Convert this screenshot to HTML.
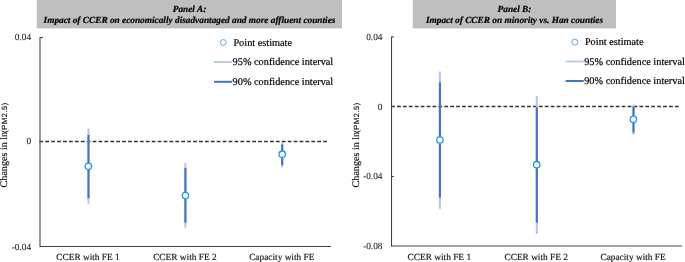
<!DOCTYPE html>
<html><head><meta charset="utf-8">
<style>
html,body{margin:0;padding:0;background:#fff;width:685px;height:262px;overflow:hidden;}
svg{display:block;will-change:transform;text-rendering:geometricPrecision;}
.t{font-family:"Liberation Serif",serif;fill:#000;}
.ti{font-family:"Liberation Serif",serif;font-weight:bold;font-style:italic;font-size:9.3px;fill:#000;stroke:#000;stroke-width:0.2px;}
.tk{font-family:"Liberation Serif",serif;font-size:9.3px;fill:#262626;stroke:#262626;stroke-width:0.1px;}
.cat{font-family:"Liberation Serif",serif;font-size:9.33px;fill:#1a1a1a;stroke:#1a1a1a;stroke-width:0.18px;}
.lg{font-family:"Liberation Serif",serif;font-size:10.3px;fill:#000;stroke:#000;stroke-width:0.2px;}
.yl{font-family:"Liberation Serif",serif;font-size:10.1px;fill:#000;stroke:#000;stroke-width:0.12px;}
.ys{font-family:"Liberation Sans",sans-serif;font-size:7.5px;letter-spacing:0.55px;fill:#000;stroke:#000;stroke-width:0.1px;}
</style></head>
<body>
<svg width="685" height="262" viewBox="0 0 685 262">
<!-- ================= PANEL A ================= -->
<rect x="36.8" y="0" width="305.2" height="28.4" fill="#bfbfbf"/>
<text class="ti" x="189.5" y="11.8" text-anchor="middle">Panel A:</text>
<text class="ti" x="189.5" y="23.2" text-anchor="middle">Impact of CCER on economically disadvantaged and more affluent counties</text>

<!-- y label -->
<text transform="translate(7.4,187.4) rotate(-90)"><tspan class="yl">Changes in ln</tspan><tspan class="ys" dx="-0.8" dy="0">(PM2.5)</tspan></text>

<!-- tick labels -->
<text class="tk" x="31.1" y="40.2" text-anchor="end">0.04</text>
<text class="tk" x="31.1" y="144.4" text-anchor="end">0</text>
<text class="tk" x="31.1" y="249.6" text-anchor="end">-0.04</text>

<!-- dashed zero line -->
<line x1="39.4" y1="141.5" x2="327.3" y2="141.5" stroke="#303030" stroke-width="1.4" stroke-dasharray="3.75 2.1625"/>

<!-- axes -->
<line x1="40" y1="37" x2="40" y2="247" stroke="#444" stroke-width="1.1"/>
<line x1="40" y1="246.5" x2="331" y2="246.5" stroke="#444" stroke-width="1.1"/>
<line x1="40" y1="37.5" x2="43" y2="37.5" stroke="#444" stroke-width="1.1"/>
<line x1="40" y1="141.5" x2="43" y2="141.5" stroke="#444" stroke-width="1.1"/>

<!-- data A -->
<g stroke-width="2.1" fill="none">
<line x1="88.5" y1="128.5" x2="88.5" y2="203.7" stroke="#b4c7e7"/>
<line x1="88.5" y1="134.8" x2="88.5" y2="198.2" stroke="#4472c4"/>
<line x1="185.4" y1="163" x2="185.4" y2="227.9" stroke="#b4c7e7"/>
<line x1="185.4" y1="167.9" x2="185.4" y2="222.8" stroke="#4472c4"/>
<line x1="282.2" y1="142.2" x2="282.2" y2="167.4" stroke="#b4c7e7"/>
<line x1="282.2" y1="144.4" x2="282.2" y2="165.2" stroke="#4472c4"/>
</g>
<g stroke="#1e96eb" stroke-width="1.3" fill="#fff">
<circle cx="88.4" cy="166.3" r="3.2"/>
<circle cx="185.4" cy="195.6" r="3.2"/>
<circle cx="282.2" cy="154.2" r="3.2"/>
</g>

<!-- category labels -->
<text class="cat" x="88" y="260" text-anchor="middle">CCER with FE 1</text>
<text class="cat" x="184.9" y="260" text-anchor="middle">CCER with FE 2</text>
<text class="cat" x="281.8" y="260" text-anchor="middle">Capacity with FE</text>

<!-- legend A -->
<circle cx="223.3" cy="42.5" r="2.95" stroke="#5aa5e8" stroke-width="0.95" fill="#fff"/>
<text class="lg" x="233.4" y="45.8">Point estimate</text>
<line x1="214" y1="62" x2="232" y2="62" stroke="#b4c7e7" stroke-width="1.8"/>
<text class="lg" x="232.6" y="65.4">95% confidence interval</text>
<line x1="214" y1="81.8" x2="232" y2="81.8" stroke="#4472c4" stroke-width="2"/>
<text class="lg" x="232.6" y="84.6">90% confidence interval</text>

<!-- ================= PANEL B ================= -->
<rect x="412.8" y="0" width="203.2" height="28.4" fill="#bfbfbf"/>
<text class="ti" x="514.5" y="12" text-anchor="middle">Panel B:</text>
<text class="ti" x="514.5" y="23.2" text-anchor="middle">Impact of CCER on minority vs. Han counties</text>

<text transform="translate(359.2,187.4) rotate(-90)"><tspan class="yl">Changes in ln</tspan><tspan class="ys" dx="-0.8" dy="0">(PM2.5)</tspan></text>

<text class="tk" x="382.5" y="40" text-anchor="end">0.04</text>
<text class="tk" x="382.5" y="109.5" text-anchor="end">0</text>
<text class="tk" x="382.5" y="179.1" text-anchor="end">-0.04</text>
<text class="tk" x="382.5" y="248.8" text-anchor="end">-0.08</text>

<line x1="391.1" y1="106.5" x2="679" y2="106.5" stroke="#303030" stroke-width="1.4" stroke-dasharray="3.75 2.1625"/>

<line x1="391.5" y1="36.5" x2="391.5" y2="246.6" stroke="#444" stroke-width="1.1"/>
<line x1="391.5" y1="246" x2="682" y2="246" stroke="#444" stroke-width="1.1"/>
<line x1="391.5" y1="37" x2="394" y2="37" stroke="#444" stroke-width="1.1"/>
<line x1="391.5" y1="106.5" x2="394" y2="106.5" stroke="#444" stroke-width="1.1"/>
<line x1="391.5" y1="176.5" x2="394" y2="176.5" stroke="#444" stroke-width="1.1"/>

<g stroke-width="2.1" fill="none">
<line x1="439.9" y1="71.5" x2="439.9" y2="208.8" stroke="#b4c7e7"/>
<line x1="439.9" y1="82.4" x2="439.9" y2="197.6" stroke="#4472c4"/>
<line x1="536.8" y1="95.9" x2="536.8" y2="234" stroke="#b4c7e7"/>
<line x1="536.8" y1="107.3" x2="536.8" y2="222.6" stroke="#4472c4"/>
<line x1="633.5" y1="104.8" x2="633.5" y2="134.7" stroke="#b4c7e7"/>
<line x1="633.5" y1="106.5" x2="633.5" y2="132.6" stroke="#4472c4"/>
</g>
<g stroke="#1e96eb" stroke-width="1.3" fill="#fff">
<circle cx="439.9" cy="140.1" r="3.2"/>
<circle cx="536.7" cy="164.7" r="3.2"/>
<circle cx="633.4" cy="119.3" r="3.2"/>
</g>

<text class="cat" x="439.3" y="259.7" text-anchor="middle">CCER with FE 1</text>
<text class="cat" x="536.2" y="259.7" text-anchor="middle">CCER with FE 2</text>
<text class="cat" x="633.1" y="259.7" text-anchor="middle">Capacity with FE</text>

<circle cx="574.8" cy="42.1" r="2.95" stroke="#5aa5e8" stroke-width="0.95" fill="#fff"/>
<text class="lg" x="584.9" y="45.0">Point estimate</text>
<line x1="565.6" y1="61.5" x2="583.8" y2="61.5" stroke="#b4c7e7" stroke-width="1.8"/>
<text class="lg" x="584.2" y="64.7">95% confidence interval</text>
<line x1="565.6" y1="81.0" x2="583.8" y2="81.0" stroke="#4472c4" stroke-width="2"/>
<text class="lg" x="584.2" y="84.0">90% confidence interval</text>
</svg>
</body></html>
